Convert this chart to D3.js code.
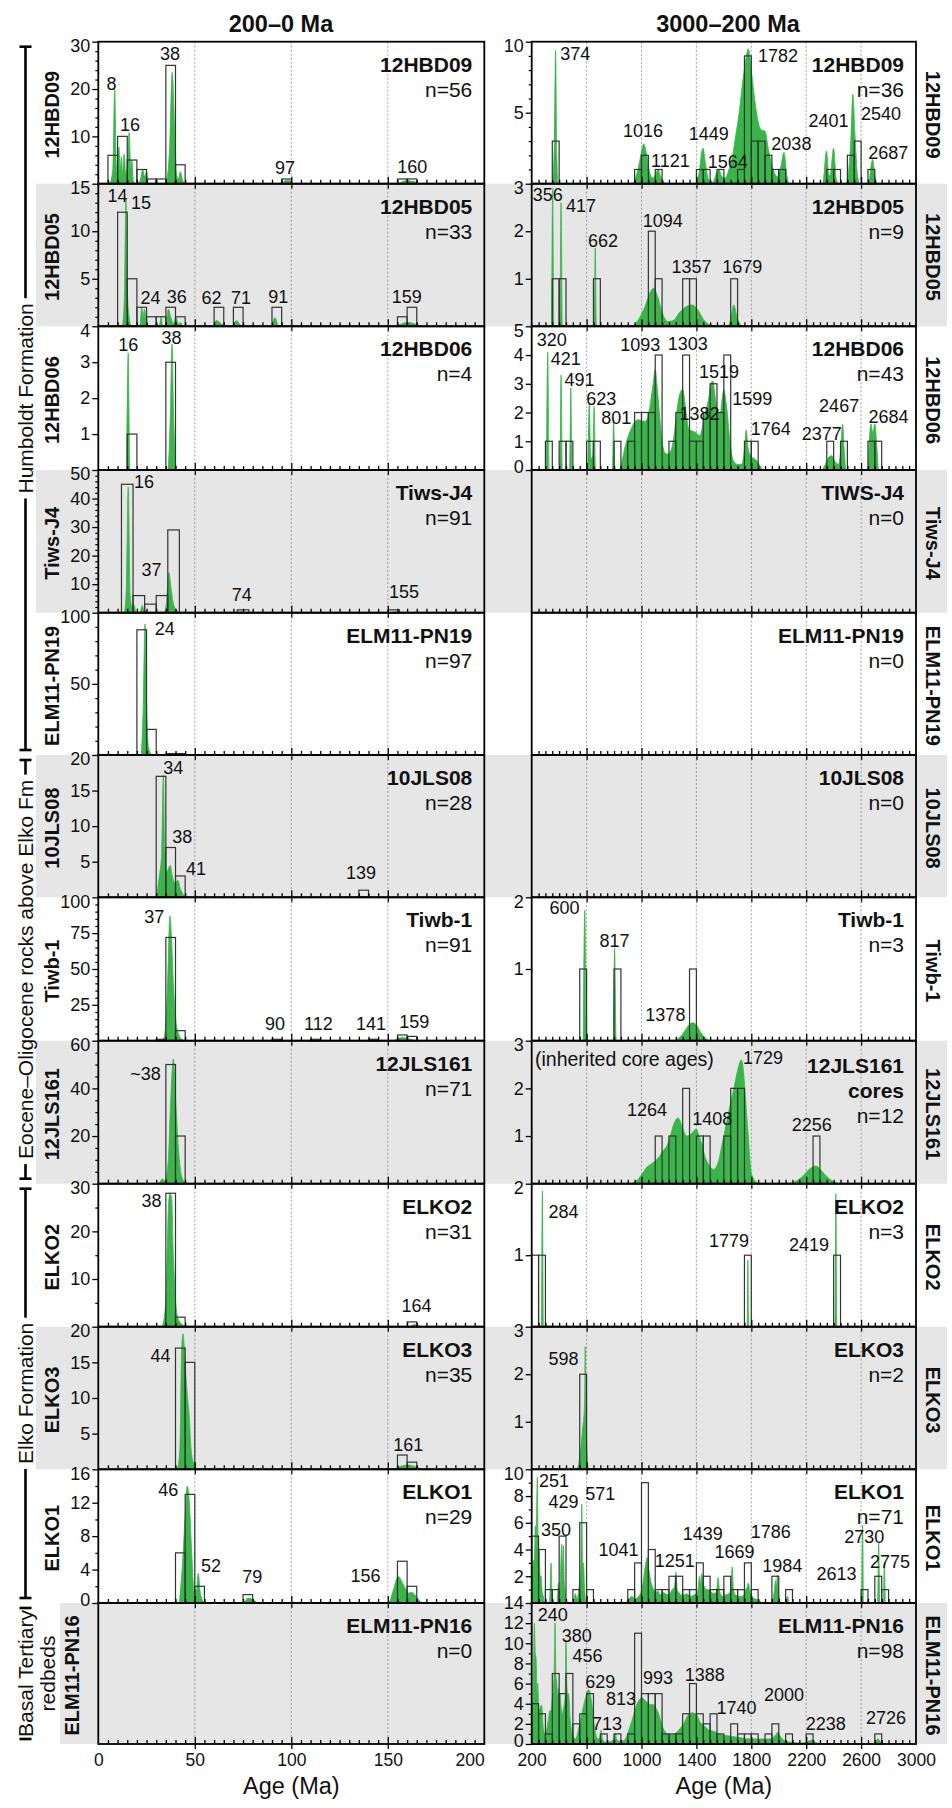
<!DOCTYPE html>
<html>
<head>
<meta charset="utf-8">
<script src="https://cdn.jsdelivr.net/npm/d3@7"></script>
<style>
	body { margin: 0; background: #fff; }
	svg text { font-family: "Liberation Sans", Arial, sans-serif; fill: #111; }
</style>
</head>
<body>
<svg id="chart" width="952" height="1808"></svg>
<script>
// ---------- samples (top to bottom) ----------
const samples = ["12HBD09", "12HBD05", "12HBD06", "Tiws-J4", "ELM11-PN19", "10JLS08", "Tiwb-1", "12JLS161", "ELKO2", "ELKO3", "ELKO1", "ELM11-PN16"]
const oldTitles = [["12HBD09"], ["12HBD05"], ["12HBD06"], ["TIWS-J4"], ["ELM11-PN19"], ["10JLS08"], ["Tiwb-1"], ["12JLS161", "cores"], ["ELKO2"], ["ELKO3"], ["ELKO1"], ["ELM11-PN16"]]
const youngN = [56, 33, 4, 91, 97, 28, 91, 71, 31, 35, 29, 0]
const oldN = [36, 9, 43, 0, 0, 0, 3, 12, 3, 2, 71, 98]

const formationNames = ["Humboldt Formation", "Eocene\u2013Oligocene rocks above Elko Fm", "Elko Formation", "Basal Tertiary\nredbeds"]
const formationRows = [[0, 5], [5, 8], [8, 11], [11, 12]]

// ---------- axes ----------
const youngXTicks = [0, 50, 100, 150, 200]
const oldXTicks = [200, 600, 1000, 1400, 1800, 2200, 2600, 3000]
const youngYMax = [30, 15, 4, 50, 100, 20, 100, 60, 30, 20, 16, 0]
const youngYTicks = [[10, 20, 30], [5, 10, 15], [1, 2, 3, 4], [10, 20, 30, 40, 50], [50, 100], [5, 10, 15, 20], [25, 50, 75, 100], [20, 40, 60], [10, 20, 30], [5, 10, 15, 20], [0, 4, 8, 12, 16], []]
const youngYMinor = [2, 1, 0, 2, 10, 0, 5, 5, 5, 0, 2, 0]
const oldYMax = [10, 3, 5, 0, 0, 0, 2, 3, 2, 3, 10, 14]
const oldYTicks = [[5, 10], [1, 2, 3], [0, 1, 2, 3, 4, 5], [], [], [], [1, 2], [1, 2, 3], [1, 2], [1, 2, 3], [2, 4, 6, 8, 10], [0, 2, 4, 6, 8, 10, 12, 14]]
const oldYMinor = [1, 0, 0, 0, 0, 0, 0, 0, 0, 0, 1, 1]

// ---------- histograms, 200-0 Ma: [from, to, count] ----------
const hist12HBD09Young = [[5, 10, 6], [10, 15, 10], [15, 20, 5], [20, 25, 3], [25, 30, 1], [30, 35, 1], [35, 40, 25], [40, 45, 4], [95, 100, 1], [155, 160, 1], [160, 165, 1]]
const hist12HBD05Young = [[10, 15, 12], [15, 20, 5], [20, 25, 2], [25, 30, 1], [30, 35, 1], [35, 40, 2], [40, 45, 1], [60, 65, 2], [70, 75, 2], [90, 95, 2], [155, 160, 1], [160, 165, 2]]
const hist12HBD06Young = [[15, 20, 1], [35, 40, 3]]
const histTiwsJ4Young = [[12, 18, 45], [18, 24, 6], [24, 30, 3], [30, 36, 6], [36, 42, 29], [72, 78, 1], [150, 156, 1]]
const histPN19Young = [[20, 25, 88], [25, 30, 18], [35, 40, 1], [40, 45, 1]]
const hist10JLS08Young = [[30, 35, 17], [35, 40, 7], [40, 45, 3], [135, 140, 1]]
const histTiwb1Young = [[30, 35, 1], [35, 40, 72], [40, 45, 7], [90, 95, 1], [110, 115, 1], [140, 145, 1], [155, 160, 4], [160, 165, 3]]
const hist12JLS161Young = [[35, 40, 50], [40, 45, 20]]
const histELKO2Young = [[35, 40, 28], [40, 45, 2], [160, 165, 1]]
const histELKO3Young = [[40, 45, 17], [45, 50, 15], [155, 160, 2], [160, 165, 1]]
const histELKO1Young = [[40, 45, 6], [45, 50, 13], [50, 55, 2], [75, 80, 1], [155, 160, 5], [160, 165, 2]]
const histPN16Young = []

// ---------- histograms, 3000-200 Ma: [bin start, count], 50 Ma bins ----------
const hist12HBD09Old = [[350, 3], [950, 1], [1000, 2], [1100, 1], [1400, 1], [1450, 1], [1550, 1], [1700, 1], [1750, 9], [1800, 3], [1850, 3], [1900, 2], [1950, 1], [2000, 1], [2350, 1], [2400, 1], [2500, 2], [2550, 3], [2650, 1]]
const hist12HBD05Old = [[350, 1], [400, 1], [650, 1], [1050, 2], [1100, 1], [1300, 1], [1350, 1], [1650, 1]]
const hist12HBD06Old = [[300, 1], [400, 1], [450, 1], [600, 1], [650, 1], [800, 1], [900, 1], [950, 2], [1000, 2], [1050, 2], [1100, 4], [1200, 1], [1250, 2], [1300, 4], [1350, 1], [1400, 1], [1450, 2], [1500, 3], [1550, 2], [1600, 4], [1750, 1], [1800, 1], [2350, 1], [2450, 1], [2650, 1], [2700, 1]]
const histTiwb1Old = [[550, 1], [800, 1], [1350, 1]]
const hist12JLS161Old = [[1100, 1], [1200, 1], [1300, 2], [1400, 1], [1450, 1], [1600, 1], [1650, 2], [1700, 2], [2250, 1]]
const histELKO2Old = [[200, 1], [250, 1], [1750, 1], [2400, 1]]
const histELKO3Old = [[550, 2]]
const histELKO1Old = [[200, 5], [250, 4], [300, 1], [350, 1], [400, 5], [500, 1], [550, 6], [600, 1], [900, 1], [950, 3], [1000, 9], [1050, 4], [1100, 1], [1150, 1], [1200, 2], [1250, 2], [1300, 1], [1350, 1], [1400, 3], [1450, 2], [1500, 1], [1550, 1], [1600, 2], [1650, 1], [1700, 1], [1750, 3], [1800, 1], [1950, 2], [2050, 1], [2600, 1], [2700, 2], [2750, 1]]
const histPN16Old = [[200, 4], [250, 3], [300, 1], [350, 7], [400, 5], [450, 7], [500, 2], [550, 3], [600, 5], [700, 1], [800, 1], [900, 1], [950, 11], [1000, 5], [1050, 5], [1100, 5], [1150, 1], [1200, 1], [1250, 1], [1300, 3], [1350, 6], [1400, 3], [1450, 2], [1500, 3], [1550, 1], [1650, 2], [1700, 1], [1750, 1], [1800, 1], [1900, 1], [1950, 2], [2050, 1], [2200, 1], [2700, 1]]

// ---------- probability density curves (green), [age, value] ----------
const pdp12HBD09Young = [[6, 0], [7.5, 3], [8.5, 20], [9.3, 4], [10, 2], [10.7, 7.7], [11.3, 3], [12, 5.7], [12.6, 2], [13.4, 6.3], [14.2, 2], [15, 3], [16, 10.8], [16.8, 3], [17.4, 5], [18.2, 0.5], [19.5, 0], [21.5, 0.5], [23, 2.9], [24, 1.5], [25, 2.5], [26, 0], [29, 0], [30, 1], [31, 0], [34, 0], [35.5, 1], [37, 8], [38.3, 23.5], [39.5, 12], [40.5, 2], [41.5, 1], [42.5, 2.5], [43.5, 1], [45, 0], [95, 0], [97, 0.7], [99, 0.7], [101, 0], [155, 0], [159, 0.6], [163, 0.5], [166, 0]]
const pdp12HBD05Young = [[12.5, 0], [13.5, 3], [14.3, 13.4], [15, 4], [16, 1], [17, 0], [21.5, 0], [22.5, 2], [23.2, 1], [23.9, 1.8], [25, 0], [29, 0], [30.2, 0.4], [31, 0], [31.8, 0.2], [32.6, 1], [33.3, 0], [35, 0], [36.3, 1.8], [37.5, 1], [38.9, 0.3], [40.4, 0.9], [41.5, 0.2], [42.5, 0.4], [44, 0], [59.5, 0], [61, 0.6], [63, 0.4], [65.5, 0], [69.5, 0], [71.5, 0.6], [74.5, 0], [89.5, 0], [91.5, 0.9], [93.5, 0], [153, 0], [160, 0.4], [167.5, 0]]
const pdp12HBD06Young = [[14.7, 0], [15.5, 3.26], [16.3, 0], [36, 0], [37.3, 1.5], [38.2, 3.5], [39, 1.5], [40.3, 0]]
const pdpTiwsJ4Young = [[13.5, 0], [14.5, 8], [15.5, 44], [16.5, 6], [17.5, 2], [18.3, 3], [19.5, 0.5], [21.5, 0], [22.8, 2.5], [23.6, 1], [25, 0.5], [26.5, 0], [31, 0], [32.5, 0.3], [34, 0], [35.2, 3], [36.6, 14], [37.6, 9], [39, 3], [40.5, 1], [42, 0], [72, 0], [74, 0.3], [77, 0], [152, 0], [155, 0.3], [158, 0]]
const pdpPN19Young = [[22.3, 0], [23.3, 35], [24.2, 92], [25, 38], [26, 6], [27.5, 0.5], [29, 0]]
const pdp10JLS08Young = [[29.5, 0], [30.5, 0.8], [31.6, 3], [32.8, 6], [33.7, 17.2], [34.4, 7], [35.4, 3.5], [36.3, 4], [37.3, 4.5], [38.3, 3], [39.7, 2], [41.2, 2.4], [42.5, 1.2], [44, 0.4], [45.5, 0], [132, 0], [136, 0.15], [140, 0]]
const pdpTiwb1Young = [[32, 0], [33.7, 1], [34.9, 10], [35.9, 40], [37.1, 87], [38, 70], [38.9, 40], [40.1, 15], [41.5, 5], [43.2, 1], [45, 0], [152.5, 0], [155.5, 1.5], [157.7, 2.2], [160, 1.5], [163, 0.5], [165, 0]]
const pdp12JLS161Young = [[31.5, 0], [33.3, 2], [34.5, 1], [36.3, 10], [37.5, 35], [38.9, 52.3], [40.1, 35], [41.5, 15], [43.2, 3], [45, 0.5], [46.5, 0]]
const pdpELKO2Young = [[33, 0], [34.5, 3], [35.4, 10], [36.3, 25], [37.1, 28], [38, 27], [38.9, 15], [40.1, 5], [41.5, 1.5], [44, 0.3], [46, 0], [161, 0], [164, 0.5], [167, 0]]
const pdpELKO3Young = [[41, 0], [42.3, 3], [43.2, 17], [43.9, 19], [44.6, 17], [45.4, 13], [46.3, 10], [47.2, 7], [48, 3], [49.2, 1], [51, 0], [152.8, 0], [156.3, 0.4], [160.6, 0.6], [164, 0.4], [167.5, 0]]
const pdpELKO1Young = [[42, 0], [43.7, 5], [44.9, 10], [46.1, 14], [47.2, 12], [48.4, 6], [49.6, 1.5], [50.8, 1.5], [51.8, 3.55], [52.7, 1.5], [54, 0.3], [55, 0], [75, 0], [77.7, 0.6], [80.3, 0.4], [83, 0], [150.3, 0], [152.8, 1.5], [155.4, 3.2], [157.2, 2.6], [158.9, 1.8], [160.6, 1.2], [162.3, 1.3], [164, 1], [166.7, 0.2], [168, 0]]
const pdpPN16Young = []

const pdp12HBD09Old = [[352, 0], [365, 3], [374, 9.4], [383, 2], [392, 0], [930, 0], [960, 0.5], [985, 1.5], [1005, 2.5], [1016, 2.8], [1035, 2.2], [1055, 1], [1080, 0.4], [1100, 0.6], [1120, 1], [1140, 0.5], [1170, 0.05], [1200, 0], [1390, 0], [1420, 0.8], [1440, 2.3], [1449, 2.5], [1465, 1.5], [1490, 0.3], [1520, 0.1], [1545, 0.7], [1564, 1], [1585, 0.5], [1610, 0.4], [1637, 1], [1660, 1.8], [1685, 3.3], [1710, 4.9], [1735, 7], [1755, 8.4], [1778, 9.5], [1800, 8], [1820, 6.3], [1840, 4.9], [1870, 3.8], [1900, 3.7], [1925, 2.4], [1960, 1], [1990, 0.5], [2015, 1.2], [2038, 2.2], [2060, 0.5], [2080, 0], [2320, 0], [2348, 2.3], [2365, 0.6], [2375, 0.6], [2399, 2.5], [2420, 0.3], [2440, 0], [2490, 0], [2510, 1], [2525, 3], [2540, 6.3], [2555, 3.5], [2575, 0.5], [2590, 0], [2655, 0], [2672, 1.2], [2684, 1.7], [2700, 0.6], [2715, 0]]
const pdp12HBD05Old = [[345, 0], [353, 2.9], [361, 0], [405, 0], [414, 2.6], [423, 0], [655, 0], [663, 1.65], [671, 0], [930, 0], [980, 0.15], [1030, 0.45], [1060, 0.7], [1089, 0.8], [1115, 0.65], [1150, 0.3], [1190, 0.1], [1230, 0.12], [1280, 0.3], [1330, 0.42], [1369, 0.45], [1410, 0.35], [1450, 0.15], [1500, 0.03], [1560, 0], [1630, 0], [1650, 0.15], [1673, 0.45], [1695, 0.2], [1730, 0]]
const pdp12HBD06Old = [[307, 0], [317, 4.1], [327, 0], [405, 0], [414, 3.3], [423, 0], [477, 0], [485, 2.85], [493, 0], [608, 0], [619, 2.3], [630, 0.4], [645, 0.5], [655, 2.2], [665, 0], [788, 0], [797, 1.8], [806, 0], [840, 0], [857, 0.3], [880, 0.8], [905, 1.2], [930, 1.5], [955, 1.7], [980, 1.75], [1005, 1.7], [1028, 1.7], [1050, 1.9], [1064, 2.3], [1085, 3], [1100, 3.5], [1112, 3], [1125, 2.3], [1150, 1], [1170, 0.6], [1186, 0.55], [1205, 0.6], [1223, 0.8], [1247, 1.6], [1262, 2.2], [1276, 2.6], [1300, 2.8], [1315, 2.4], [1325, 2], [1340, 1.5], [1349, 1.4], [1374, 1.35], [1398, 1.3], [1422, 1.2], [1440, 1.4], [1454, 1.8], [1470, 2.1], [1490, 2.5], [1505, 3], [1520, 3.1], [1535, 2.6], [1544, 2.3], [1560, 2], [1575, 2], [1588, 2.5], [1600, 2.8], [1612, 2.5], [1625, 2], [1640, 1.2], [1655, 0.6], [1673, 0.3], [1700, 0.2], [1730, 0.2], [1752, 0.8], [1763, 1.4], [1775, 0.8], [1795, 0.5], [1820, 0.4], [1844, 0.3], [1870, 0.1], [1890, 0], [2310, 0], [2340, 0.2], [2365, 0.45], [2387, 0.5], [2410, 0.3], [2435, 0.2], [2452, 0.7], [2465, 1.6], [2478, 0.6], [2490, 0], [2650, 0], [2662, 1.2], [2671, 1.6], [2686, 1.3], [2700, 1.6], [2712, 1], [2725, 0]]
const pdpTiwb1Old = [[575, 0], [587, 1.82], [599, 0], [793, 0], [804, 1.29], [815, 0], [1230, 0], [1280, 0.05], [1320, 0.15], [1350, 0.23], [1374, 0.25], [1400, 0.22], [1430, 0.12], [1470, 0.03], [1510, 0]]
const pdp12JLS161Old = [[920, 0], [960, 0.05], [1003, 0.2], [1040, 0.35], [1064, 0.4], [1100, 0.48], [1125, 0.55], [1160, 0.7], [1186, 0.8], [1210, 1], [1235, 1.25], [1266, 1.38], [1296, 1.2], [1315, 1.05], [1332, 1], [1364, 1.05], [1398, 1.15], [1420, 1], [1442, 0.8], [1465, 0.55], [1490, 0.4], [1510, 0.32], [1527, 0.3], [1545, 0.35], [1564, 0.5], [1585, 0.8], [1600, 1], [1620, 1.3], [1642, 1.6], [1673, 2], [1702, 2.4], [1727, 2.6], [1745, 2.3], [1753, 2], [1765, 1.5], [1778, 1], [1790, 0.5], [1802, 0.2], [1831, 0.05], [1860, 0], [2060, 0], [2099, 0.02], [2140, 0.08], [2172, 0.15], [2221, 0.3], [2270, 0.37], [2318, 0.25], [2350, 0.15], [2379, 0.08], [2440, 0]]
const pdpELKO2Old = [[271, 0], [278, 1.9], [285, 0], [1770, 0], [1775, 0.93], [1780, 0], [2410, 0], [2416, 1.86], [2422, 0]]
const pdpELKO3Old = [[530, 0], [545, 0.15], [560, 0.5], [572, 0.9], [580, 1.1], [586, 1.5], [590, 2.58], [594, 1.5], [600, 0.6], [607, 0.15], [615, 0]]
const pdpELKO1Old = [[200, 0], [205, 1.5], [212, 3.2], [219, 3], [226, 5.8], [232, 4], [241, 9.4], [247, 4], [254, 4], [262, 2], [268, 2], [277, 0.8], [285, 0.5], [295, 0], [330, 0], [341, 3], [350, 0.2], [365, 0], [385, 0], [395, 1.5], [405, 0.8], [414, 3.5], [419, 4.4], [425, 2.5], [431, 4.3], [438, 1.5], [443, 1], [452, 0], [505, 0], [517, 0.7], [530, 0.3], [548, 1.5], [558, 2.5], [565, 7.4], [571, 3], [577, 3], [585, 1.2], [595, 0], [880, 0], [906, 0.3], [930, 0.5], [955, 0.3], [979, 0.5], [1003, 1], [1015, 1.8], [1023, 2.5], [1032, 3], [1040, 3.4], [1048, 2.8], [1057, 2.3], [1068, 1.6], [1077, 1.3], [1100, 0.8], [1120, 0.9], [1137, 0.6], [1155, 0.8], [1174, 0.7], [1200, 0.6], [1223, 1], [1240, 1.2], [1251, 2.3], [1260, 1], [1271, 0.8], [1290, 0.6], [1308, 0.6], [1325, 0.7], [1344, 0.6], [1360, 0.5], [1381, 0.6], [1405, 0.8], [1414, 1.2], [1422, 2], [1430, 1.4], [1439, 2.2], [1447, 1.3], [1454, 1.3], [1470, 1], [1490, 1], [1510, 0.8], [1527, 0.7], [1545, 0.8], [1559, 1.9], [1568, 0.9], [1588, 0.5], [1610, 0.6], [1637, 0.7], [1650, 1], [1661, 2.7], [1670, 1], [1685, 0.6], [1710, 0.5], [1734, 0.5], [1750, 0.7], [1759, 1], [1770, 1.2], [1778, 1.5], [1790, 0.8], [1807, 0.4], [1830, 0.3], [1856, 0.2], [1880, 0], [1950, 0], [1966, 0.8], [1978, 1.7], [1984, 1.2], [1990, 2.1], [2000, 0.6], [2015, 0], [2050, 0], [2063, 0.5], [2078, 0], [2603, 0], [2611, 5.8], [2618, 0], [2720, 0], [2728, 4.5], [2736, 0], [2762, 0], [2769, 3], [2776, 0]]
const pdpPN16Old = [[205, 0], [212, 6], [219, 12], [226, 9], [232, 8.5], [238, 5], [244, 6], [252, 3.5], [261, 3.5], [267, 3.8], [273, 3.8], [285, 1.5], [297, 1], [310, 1.5], [322, 2.5], [332, 3.3], [341, 3.3], [350, 4.5], [358, 5.5], [365, 8], [370, 12], [376, 7], [383, 6], [389, 4.5], [395, 5.5], [401, 4.5], [407, 5], [415, 3.5], [424, 3], [431, 3.5], [438, 4], [444, 5], [450, 10.3], [456, 6], [462, 5], [468, 5], [480, 2.5], [492, 1.2], [505, 0.7], [517, 0.5], [530, 0.8], [541, 1.5], [553, 2.2], [565, 3], [578, 3.8], [590, 4.5], [602, 5], [614, 5.4], [626, 5], [638, 4], [650, 2.5], [663, 1.2], [675, 0.6], [687, 0.5], [700, 0.8], [706, 1.4], [712, 0.8], [723, 0.3], [740, 0.2], [760, 0.2], [785, 0.3], [800, 0.6], [809, 1.1], [818, 0.5], [833, 0.3], [858, 0.3], [882, 0.5], [906, 1.3], [930, 2.3], [955, 3.5], [979, 4.3], [1003, 4.6], [1028, 4.3], [1052, 4], [1070, 3.9], [1089, 3.9], [1107, 3.5], [1125, 3], [1150, 1.8], [1168, 1.3], [1186, 1], [1205, 0.9], [1223, 0.9], [1241, 1], [1259, 1.2], [1278, 1.5], [1296, 1.8], [1314, 2.2], [1332, 2.7], [1350, 3], [1369, 3.1], [1393, 3], [1410, 2.7], [1422, 2.3], [1445, 1.9], [1466, 1.7], [1490, 1.4], [1515, 1.3], [1539, 1.2], [1563, 1], [1588, 0.9], [1612, 0.85], [1637, 0.8], [1660, 0.75], [1685, 0.7], [1710, 0.65], [1734, 0.6], [1758, 0.55], [1783, 0.5], [1820, 0.5], [1856, 0.5], [1890, 0.5], [1929, 0.5], [1955, 0.6], [1978, 0.9], [1995, 1.2], [2010, 0.8], [2026, 0.5], [2050, 0.3], [2075, 0.2], [2110, 0.15], [2148, 0.1], [2190, 0.15], [2221, 0.3], [2245, 0.4], [2270, 0.15], [2294, 0.05], [2330, 0], [2680, 0], [2700, 0.15], [2722, 0.5], [2746, 0.15], [2770, 0]]

// ---------- peak age labels: [text, age, value at baseline] ----------
const peaks12HBD09Young = [["8", 6.9, 19.9], ["16", 16.4, 11.1], ["38", 37.1, 26.2], ["97", 96.7, 2.06], ["160", 162.7, 2.34]]
const peaks12HBD05Young = [["14", 10, 13.1], ["15", 22.1, 12.3], ["24", 27.1, 2.3], ["36", 40.6, 2.4], ["62", 58.7, 2.3], ["71", 73.9, 2.3], ["91", 93.3, 2.5], ["159", 159.8, 2.5]]
const peaks12HBD06Young = [["16", 15.5, 3.32], ["38", 38, 3.51]]
const peaksTiwsJ4Young = [["16", 23.7, 43.6], ["37", 27.6, 12.9], ["74", 74.3, 4.2], ["155", 158.4, 5]]
const peaksPN19Young = [["24", 34.5, 84.3]]
const peaks10JLS08Young = [["34", 38.9, 17.3], ["38", 43.5, 7.6], ["41", 50.6, 3.1], ["139", 136.1, 2.55]]
const peaksTiwb1Young = [["37", 29, 82], ["90", 91.5, 7.5], ["112", 114, 7.5], ["141", 141.3, 7.5], ["159", 163.7, 9.1]]
const peaks12JLS161Young = [["~38", 24.5, 43.5]]
const peaksELKO2Young = [["38", 27.6, 25.2], ["164", 164.9, 3]]
const peaksELKO3Young = [["44", 32.3, 15], ["161", 160.6, 2.6]]
const peaksELKO1Young = [["46", 36.3, 12.85], ["52", 58.4, 3.75], ["79", 79.8, 2.35], ["156", 138.5, 2.47]]
const peaksPN16Young = []

const peaks12HBD09Old = [["374", 517, 8.7], ["1016", 1011, 3.3], ["1121", 1210, 1.2], ["1449", 1490, 3.1], ["1564", 1629, 1.1], ["1782", 1995, 8.55], ["2038", 2092, 2.36], ["2401", 2362, 4], ["2540", 2745, 4.5], ["2687", 2798, 1.73]]
const peaks12HBD05Old = [["356", 317, 2.63], ["417", 560, 2.4], ["662", 719, 1.67], ["1094", 1155, 2.08], ["1357", 1364, 1.12], ["1679", 1734, 1.12]]
const peaks12HBD06Old = [["320", 346, 4.3], ["421", 448, 3.65], ["491", 548, 2.94], ["623", 706, 2.27], ["801", 816, 1.59], ["1093", 991, 4.15], ["1303", 1337, 4.18], ["1519", 1564, 3.2], ["1382", 1422, 1.73], ["1599", 1807, 2.26], ["1764", 1941, 1.21], ["2377", 2314, 1.06], ["2467", 2440, 2.02], ["2684", 2800, 1.65]]
const peaksTiwb1Old = [["600", 439, 1.77], ["817", 804, 1.31], ["1378", 1174, 0.28]]
const peaks12JLS161Old = [["(inherited core ages)", 224, 2.47, "start"], ["1729", 1885, 2.52], ["1264", 1040, 1.42], ["1408", 1515, 1.23], ["2256", 2240, 1.1]]
const peaksELKO2Old = [["284", 431, 1.52], ["1779", 1637, 1.12], ["2419", 2221, 1.06]]
const peaksELKO3Old = [["598", 431, 2.2]]
const peaksELKO1Old = [["251", 363, 8.7], ["429", 431, 7.1], ["571", 699, 7.7], ["350", 378, 5], ["1041", 833, 3.55], ["1251", 1242, 2.67], ["1439", 1447, 4.7], ["1669", 1678, 3.34], ["1786", 1941, 4.84], ["1984", 2026, 2.34], ["2613", 2421, 1.72], ["2730", 2623, 4.46], ["2775", 2810, 2.6]]
const peaksPN16Old = [["240", 353, 12.25], ["380", 529, 10.1], ["456", 607, 8.1], ["629", 699, 5.6], ["813", 850, 3.83], ["713", 748, 1.41], ["993", 1120, 5.94], ["1388", 1461, 6.28], ["1740", 1693, 3], ["2000", 2038, 4.26], ["2238", 2343, 1.41], ["2726", 2781, 2]]

const youngHist = [hist12HBD09Young, hist12HBD05Young, hist12HBD06Young, histTiwsJ4Young, histPN19Young, hist10JLS08Young, histTiwb1Young, hist12JLS161Young, histELKO2Young, histELKO3Young, histELKO1Young, histPN16Young]
const oldHist = [hist12HBD09Old, hist12HBD05Old, hist12HBD06Old, [], [], [], histTiwb1Old, hist12JLS161Old, histELKO2Old, histELKO3Old, histELKO1Old, histPN16Old]
const youngPdp = [pdp12HBD09Young, pdp12HBD05Young, pdp12HBD06Young, pdpTiwsJ4Young, pdpPN19Young, pdp10JLS08Young, pdpTiwb1Young, pdp12JLS161Young, pdpELKO2Young, pdpELKO3Young, pdpELKO1Young, pdpPN16Young]
const oldPdp = [pdp12HBD09Old, pdp12HBD05Old, pdp12HBD06Old, [], [], [], pdpTiwb1Old, pdp12JLS161Old, pdpELKO2Old, pdpELKO3Old, pdpELKO1Old, pdpPN16Old]
const youngPeaks = [peaks12HBD09Young, peaks12HBD05Young, peaks12HBD06Young, peaksTiwsJ4Young, peaksPN19Young, peaks10JLS08Young, peaksTiwb1Young, peaks12JLS161Young, peaksELKO2Young, peaksELKO3Young, peaksELKO1Young, peaksPN16Young]
const oldPeaks = [peaks12HBD09Old, peaks12HBD05Old, peaks12HBD06Old, [], [], [], peaksTiwb1Old, peaks12JLS161Old, peaksELKO2Old, peaksELKO3Old, peaksELKO1Old, peaksPN16Old]

// ---------- layout ----------
const svg = d3.select("#chart")
const green = "#3ab54a"
const rowY = [41.7, 183.7, 326.3, 470, 612.7, 755, 897.3, 1040.7, 1183.7, 1326.7, 1469.3, 1603, 1744]
const xYoung = d3.scaleLinear().domain([0, 200]).range([98.3, 484.3])
const xOld = d3.scaleLinear().domain([200, 3000]).range([531.7, 916])
const OLD_BIN = 50

// grey bands behind every second row
rowY.slice(0, -1).forEach((y0, i) => {
	if (i % 2 === 0) return
	const left = i === 11 ? 60 : 36
	svg.append("rect")
		.attr("x", left)
		.attr("y", y0)
		.attr("width", 947 - left)
		.attr("height", rowY[i + 1] - y0)
		.attr("fill", "#e6e6e6")
})

function drawPanel(p) {
	const g = svg.append("g")
	const [x0, x1] = p.x.range()
	const top = p.top
	const bottom = p.bottom
	const y = d3.scaleLinear().domain([0, p.yMax || 1]).range([bottom, top])

	// dotted grid
	g.selectAll(".grid")
		.data(p.grid)
		.join("line")
		.attr("class", "grid")
		.attr("x1", (d) => p.x(d))
		.attr("x2", (d) => p.x(d))
		.attr("y1", top)
		.attr("y2", bottom)
		.attr("stroke", "#8a8a8a")
		.attr("stroke-width", 0.8)
		.attr("stroke-dasharray", "2,2")

	// density curve
	if (p.pdp.length) {
		const area = d3
			.area()
			.x((d) => p.x(d[0]))
			.y0(bottom)
			.y1((d) => y(d[1]))
			.curve(d3.curveMonotoneX)
		g.append("path")
			.datum(p.pdp)
			.attr("fill", green)
			.attr("stroke", green)
			.attr("stroke-width", 0.8)
			.attr("stroke-linejoin", "round")
			.attr("d", area)
	}

	// histogram outlines
	g.selectAll(".bar")
		.data(p.hist)
		.join("rect")
		.attr("class", "bar")
		.attr("x", (d) => p.x(d[0]))
		.attr("width", (d) => p.x(d[1]) - p.x(d[0]))
		.attr("y", (d) => y(d[2]))
		.attr("height", (d) => bottom - y(d[2]))
		.attr("fill", "none")
		.attr("stroke", "#333")
		.attr("stroke-width", 1.2)

	// peak labels
	g.selectAll(".peak")
		.data(p.peaks)
		.join("text")
		.attr("class", "peak")
		.attr("x", (d) => p.x(d[1]))
		.attr("y", (d) => y(d[2]))
		.attr("text-anchor", (d) => d[3] || "middle")
		.attr("font-size", (d) => (d[3] ? 19.5 : 18))
		.text((d) => d[0])

	// frame
	g.append("rect")
		.attr("x", x0)
		.attr("y", top)
		.attr("width", x1 - x0)
		.attr("height", bottom - top)
		.attr("fill", "none")
		.attr("stroke", "#000")
		.attr("stroke-width", 1.8)

	// x ticks on the bottom edge
	const xTicks = (vals, size) =>
		g.append("g")
			.attr("transform", `translate(0,${bottom})`)
			.call(d3.axisBottom(p.x).tickValues(vals).tickSize(size).tickFormat(""))
			.call((a) => a.select(".domain").remove())
			.call((a) => a.selectAll("text").remove())
			.call((a) => a.selectAll("line").attr("stroke", "#000").attr("stroke-width", 1.3))
	xTicks(p.xMinor, -4)
	xTicks(p.xMajor, -7)
	xTicks(p.xMajor, 5)

	// y axis
	if (p.yTicks.length) {
		if (p.yMinor) {
			const minorVals = d3.range(p.yMinor, p.yMax, p.yMinor).filter((v) => !p.yTicks.includes(v))
			g.append("g")
				.attr("transform", `translate(${x0},0)`)
				.call(d3.axisLeft(y).tickValues(minorVals).tickSize(3).tickFormat(""))
				.call((a) => a.select(".domain").remove())
				.call((a) => a.selectAll("text").remove())
				.call((a) => a.selectAll("line").attr("stroke-width", 1.2))
		}
		// push the top label down a little where there is room for it
		const n = p.yTicks.length
		const gap = n > 1 ? y(p.yTicks[n - 2]) - y(p.yTicks[n - 1]) : 99
		g.append("g")
			.attr("transform", `translate(${x0},0)`)
			.call(d3.axisLeft(y).tickValues(p.yTicks).tickSize(6).tickPadding(2).tickFormat(d3.format("d")))
			.call((a) => a.select(".domain").remove())
			.call((a) => a.selectAll("line").attr("stroke-width", 1.3))
			.call((a) =>
				a.selectAll("text")
					.attr("font-size", 18)
					.attr("dy", (d) => {
						if (d === p.yMax && gap > 24) return "0.55em"
						if (d === 0) return "0.15em"
						return "0.32em"
					})
			)
	}

	// sample title, right aligned
	p.title.forEach((t, i) => {
		g.append("text")
			.attr("x", x1 - 12)
			.attr("y", top + (p.title.length > 2 ? 32 : 30) + i * 25)
			.attr("text-anchor", "end")
			.attr("font-size", 21)
			.attr("font-weight", i < p.title.length - 1 ? "bold" : "normal")
			.text(t)
	})
}

samples.forEach((name, i) => {
	const top = rowY[i]
	const bottom = rowY[i + 1]
	drawPanel({
		x: xYoung,
		top,
		bottom,
		yMax: youngYMax[i],
		yTicks: youngYTicks[i],
		yMinor: youngYMinor[i],
		hist: youngHist[i],
		pdp: youngPdp[i],
		peaks: youngPeaks[i],
		grid: [50, 100, 150],
		xMinor: d3.range(5, 200, 5).filter((v) => v % 50 !== 0),
		xMajor: [50, 100, 150],
		title: [name, `n=${youngN[i]}`],
	})
	drawPanel({
		x: xOld,
		top,
		bottom,
		yMax: oldYMax[i],
		yTicks: oldYTicks[i],
		yMinor: oldYMinor[i],
		hist: oldHist[i].map((d) => [d[0], d[0] + OLD_BIN, d[1]]),
		pdp: oldPdp[i],
		peaks: oldPeaks[i],
		grid: [600, 1000, 1400, 1800, 2200, 2600],
		xMinor: d3.range(250, 3000, 50).filter((v) => (v - 200) % 400 !== 0),
		xMajor: [600, 1000, 1400, 1800, 2200, 2600],
		title: [...oldTitles[i], `n=${oldN[i]}`],
	})

	const mid = (top + bottom) / 2 + 2
	// left sample label
	const lx = i === 11 ? 72 : 52
	svg.append("text")
		.attr("transform", `translate(${lx},${mid}) rotate(-90)`)
		.attr("text-anchor", "middle")
		.attr("dy", "0.35em")
		.attr("font-size", 20)
		.attr("font-weight", "bold")
		.text(name)
	// right sample label
	svg.append("text")
		.attr("transform", `translate(933,${mid}) rotate(90)`)
		.attr("text-anchor", "middle")
		.attr("dy", "0.35em")
		.attr("font-size", 20)
		.attr("font-weight", "bold")
		.text(name)
})

// bottom tick labels and axis titles
const lastBottom = rowY[rowY.length - 1]
;[
	[xYoung, youngXTicks, 200],
	[xOld, oldXTicks, null],
].forEach(([x, ticks, endTick]) => {
	svg.append("g")
		.attr("transform", `translate(0,${lastBottom})`)
		.call(d3.axisBottom(x).tickValues(ticks).tickSize(0).tickPadding(10).tickFormat(d3.format("d")))
		.call((a) => a.select(".domain").remove())
		.call((a) =>
			a.selectAll("text")
				.attr("font-size", 17.5)
				.attr("text-anchor", (d) => (d === endTick ? "end" : "middle"))
		)
	const [a, b] = x.range()
	svg.append("text")
		.attr("x", (a + b) / 2)
		.attr("y", 1794)
		.attr("text-anchor", "middle")
		.attr("font-size", 23.5)
		.text("Age (Ma)")
})

// column headings
svg.append("text").attr("x", 281).attr("y", 32).attr("text-anchor", "middle")
	.attr("font-size", 23.5).attr("font-weight", "bold").text("200\u20130 Ma")
svg.append("text").attr("x", 728).attr("y", 32).attr("text-anchor", "middle")
	.attr("font-size", 23.5).attr("font-weight", "bold").text("3000\u2013200 Ma")

// formation brackets on the far left
const bx = 25.5
formationNames.forEach((label, k) => {
	const [r0, r1] = formationRows[k]
	const y0 = rowY[r0] + 5
	const y1 = rowY[r1] - 5
	const mid = (y0 + y1) / 2
	const lines = label.split("\n")
	const t = svg.append("text")
		.attr("transform", `translate(${bx},${mid}) rotate(-90)`)
		.attr("text-anchor", "middle")
		.attr("dy", "0.35em")
		.attr("font-size", 21)
		.text(lines[0])
	if (lines[1]) {
		svg.append("text")
			.attr("transform", `translate(${bx + 22},${mid}) rotate(-90)`)
			.attr("text-anchor", "middle")
			.attr("dy", "0.35em")
			.attr("font-size", 21)
			.text(lines[1])
	}
	const half = t.node().getComputedTextLength() / 2 + 5
	const segs = [[y0, mid - half], [mid + half, y1]].filter((s) => s[1] - s[0] > 1)
	segs.forEach((s) => {
		svg.append("line").attr("x1", bx).attr("x2", bx).attr("y1", s[0]).attr("y2", s[1])
			.attr("stroke", "#000").attr("stroke-width", 2.6)
	})
	;[y0, y1].forEach((yy) => {
		svg.append("line").attr("x1", bx - 6).attr("x2", bx + 6).attr("y1", yy).attr("y2", yy)
			.attr("stroke", "#000").attr("stroke-width", 2.6)
	})
})
</script>
</body>
</html>
